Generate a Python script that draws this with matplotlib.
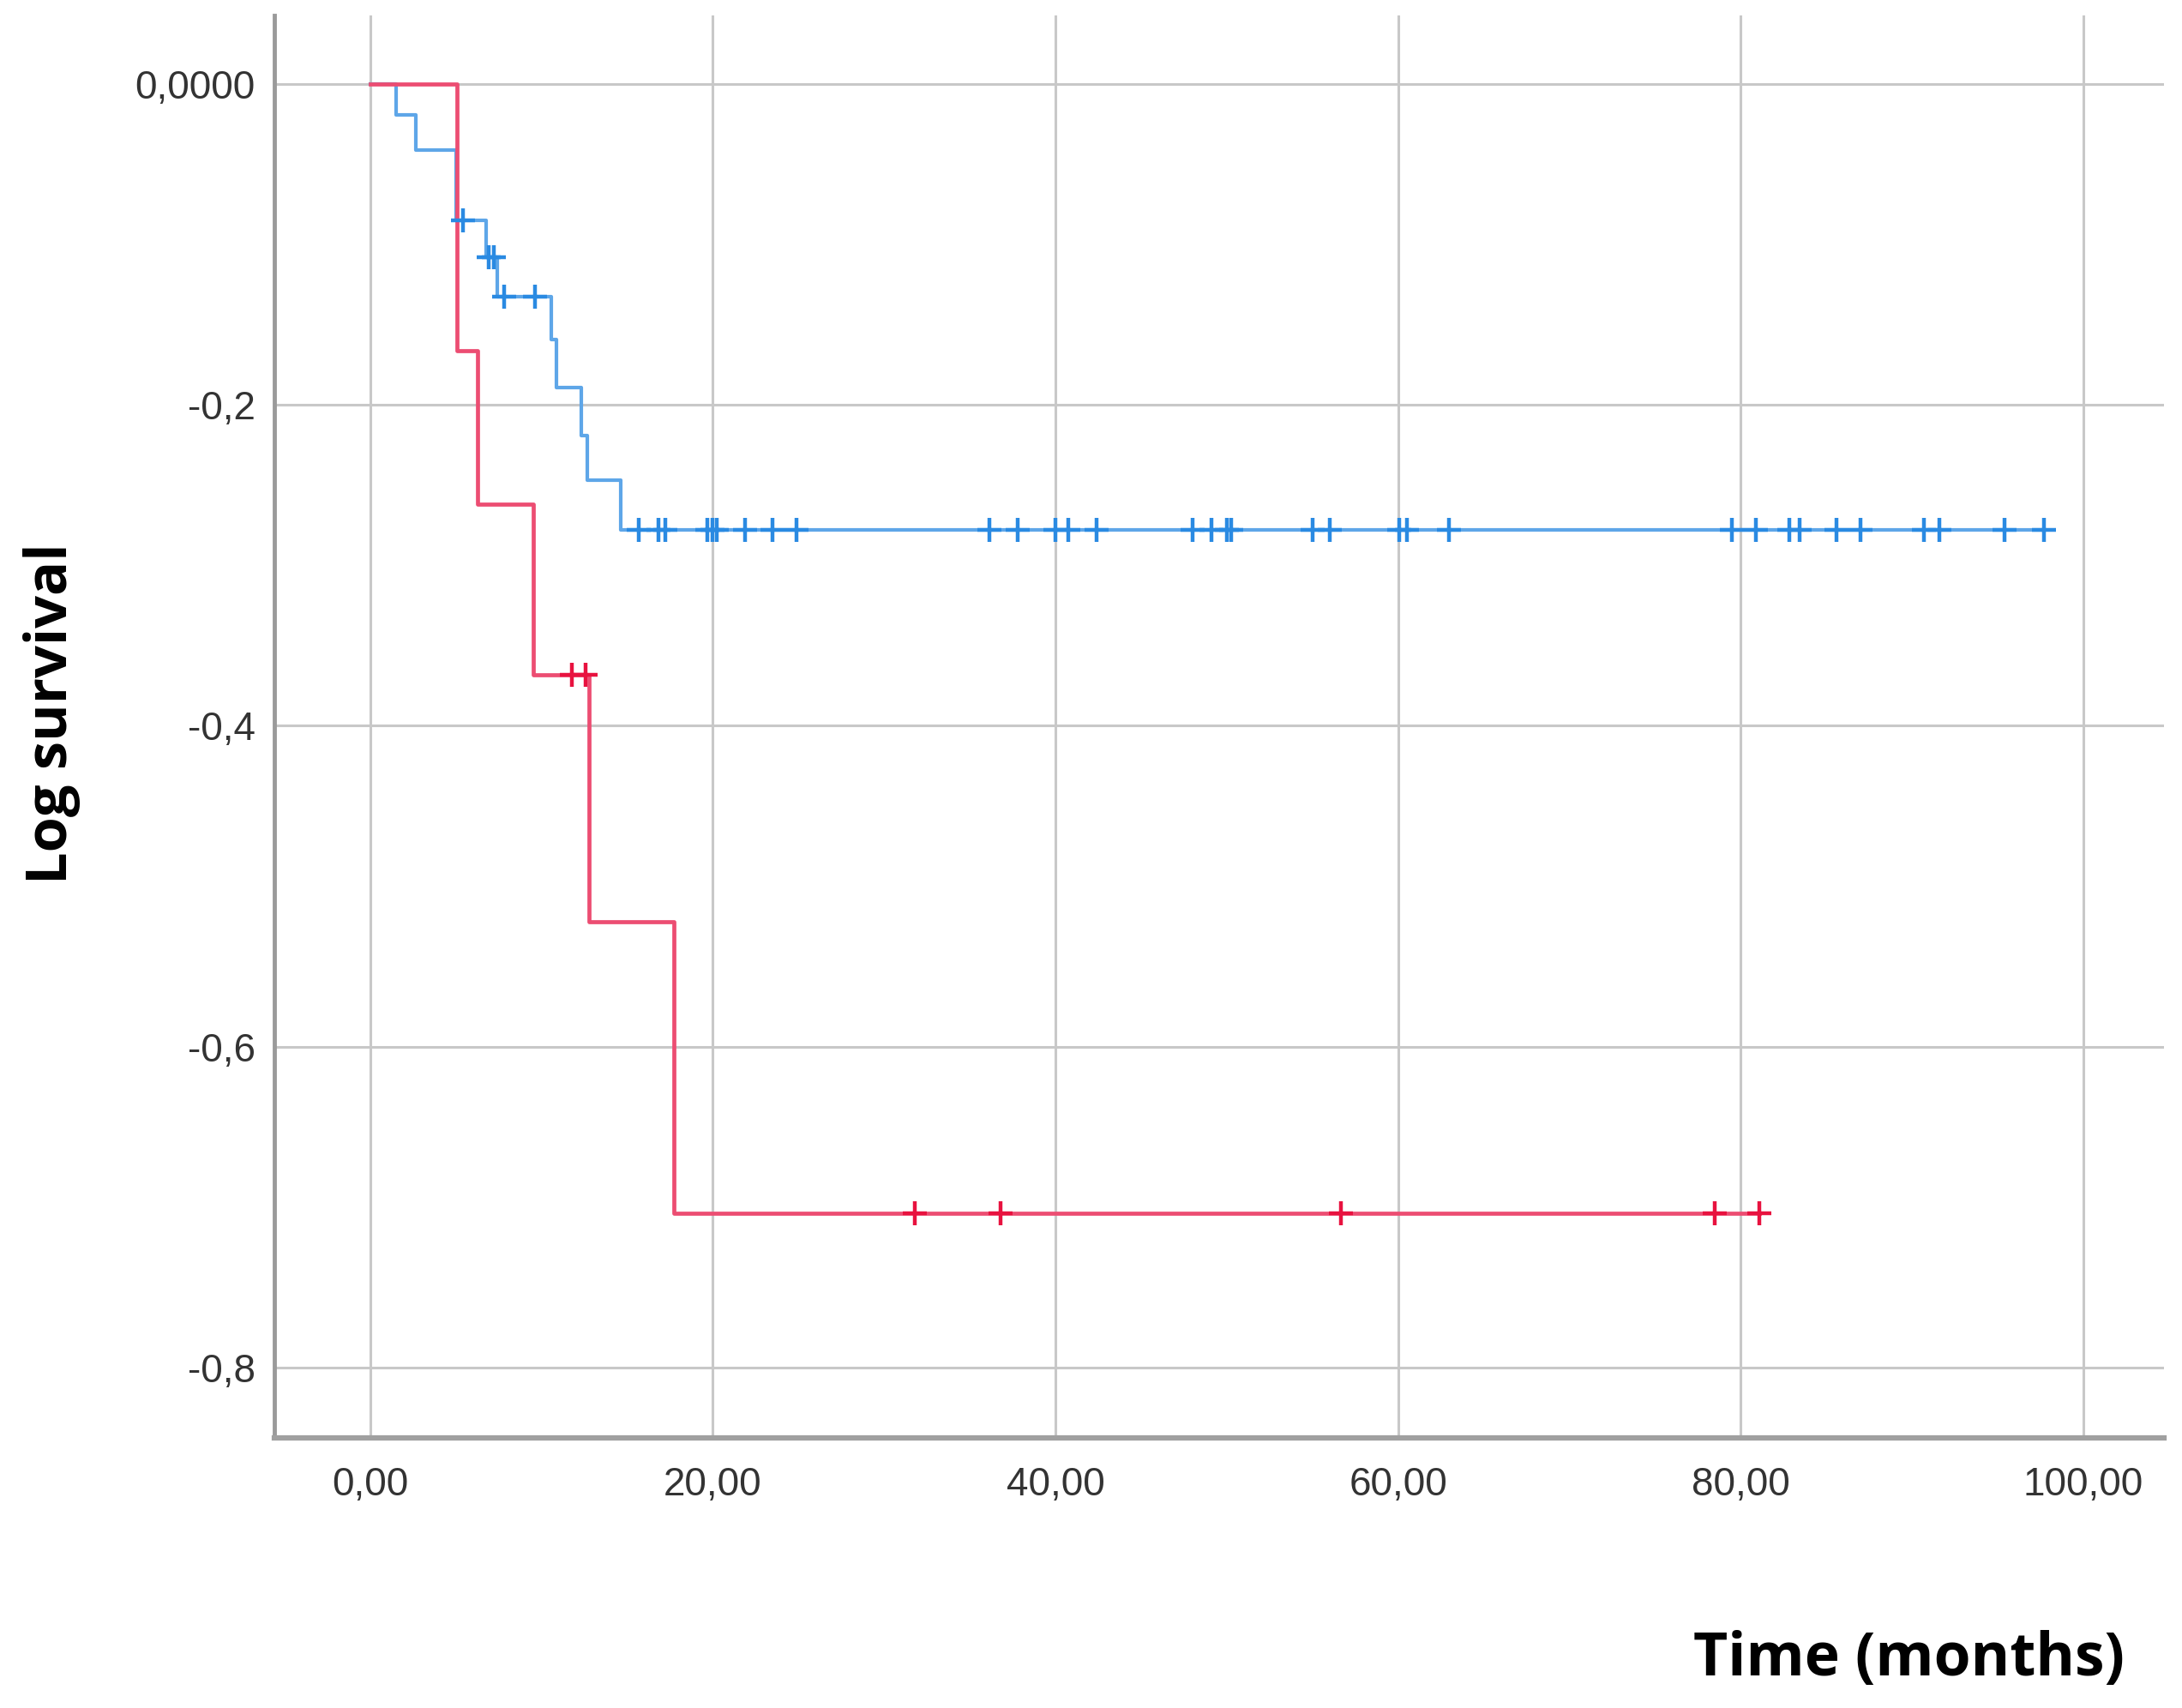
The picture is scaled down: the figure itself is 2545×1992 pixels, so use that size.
import numpy as np
import matplotlib
matplotlib.use("Agg")
import matplotlib.pyplot as plt

# step curves (time in months, log survival)
blue_times = [0, 1.5, 2.65, 5.0, 6.75, 7.4, 10.55, 10.85, 12.3, 12.65, 14.6]
blue_levels = [0, -0.019, -0.041, -0.085, -0.108, -0.1325, -0.159, -0.189, -0.219, -0.247, -0.278]
blue_end = 97.7

red_times = [0, 5.05, 6.25, 9.5, 12.75, 17.75]
red_levels = [0, -0.166, -0.262, -0.368, -0.522, -0.704]
red_end = 81.1

# censored observations
blue_cens_t = [5.4, 6.9, 7.2, 7.8, 9.6,
               15.65, 16.85, 17.25, 19.7, 20.0, 20.25, 21.9, 23.5, 24.9,
               36.15, 37.8, 40.0, 40.75, 42.4, 48.0, 49.1, 50.0, 50.25,
               55.0, 56.0, 60.05, 60.5, 62.95, 79.5, 80.9, 82.85, 83.45,
               85.6, 87.0, 90.7, 91.6, 95.4, 97.7]
red_cens_t = [11.75, 12.55, 31.8, 36.8, 56.65, 78.5, 81.1]

xticks = [0, 20, 40, 60, 80, 100]
xtick_labels = ["0,00", "20,00", "40,00", "60,00", "80,00", "100,00"]
yticks = [0, -0.2, -0.4, -0.6, -0.8]
ytick_labels = ["0,0000", "-0,2", "-0,4", "-0,6", "-0,8"]


def level_at(times, levels, t):
    # value of the step curve at time t (right-continuous)
    i = np.searchsorted(times, t, side="right") - 1
    return levels[i]


plt.rcParams['font.family'] = ['Liberation Sans', 'DejaVu Sans']

fig = plt.figure(figsize=(25.45, 19.92), dpi=100)
ax = fig.add_axes([0.1257, 0.1581, 0.866, 0.833])

blue_line = '#5ea6e8'
blue_mark = '#2a8ae2'
red_line = '#ec4d72'
red_mark = '#e8123f'

bx = blue_times + [blue_end]
by = blue_levels + [blue_levels[-1]]
ax.step(bx, by, where='post', color=blue_line, lw=3.0, zorder=3)
bcy = [level_at(blue_times, blue_levels, t) for t in blue_cens_t]
ax.plot(blue_cens_t, bcy, ls='none', marker='+', ms=20, mew=3.2,
        color=blue_mark, zorder=4)

rx = red_times + [red_end]
ry = red_levels + [red_levels[-1]]
ax.step(rx, ry, where='post', color=red_line, lw=3.4, zorder=3)
rcy = [level_at(red_times, red_levels, t) for t in red_cens_t]
ax.plot(red_cens_t, rcy, ls='none', marker='+', ms=20, mew=3.2,
        color=red_mark, zorder=4)

ax.set_xlim(-5.6, 104.7)
ax.set_ylim(-0.844, 0.043)
ax.set_xticks(xticks)
ax.set_xticklabels(xtick_labels)
ax.set_yticks(yticks)
ax.set_yticklabels(ytick_labels)
ax.tick_params(axis='both', length=0, labelsize=33, labelcolor='#333333')
ax.tick_params(axis='x', pad=24)
ax.tick_params(axis='y', pad=16)

ax.grid(True, color='#c8c8c8', lw=2.2, zorder=0)
ax.set_axisbelow(True)

for s in ['top', 'right']:
    ax.spines[s].set_visible(False)
ax.spines['left'].set_color('#9a9a9a')
ax.spines['left'].set_linewidth(3.5)
ax.spines['bottom'].set_color('#a0a0a0')
ax.spines['bottom'].set_linewidth(4.5)

fig.text(0.0236, 0.582, 'Log survival', rotation=90, fontsize=48,
         fontweight='bold', ha='center', va='center', family='Open Sans')
fig.text(0.9737, 0.028, 'Time (months)', fontsize=50, fontweight='bold',
         ha='right', va='center', family='Open Sans')

fig.savefig('out.png', dpi=100, facecolor='white')
